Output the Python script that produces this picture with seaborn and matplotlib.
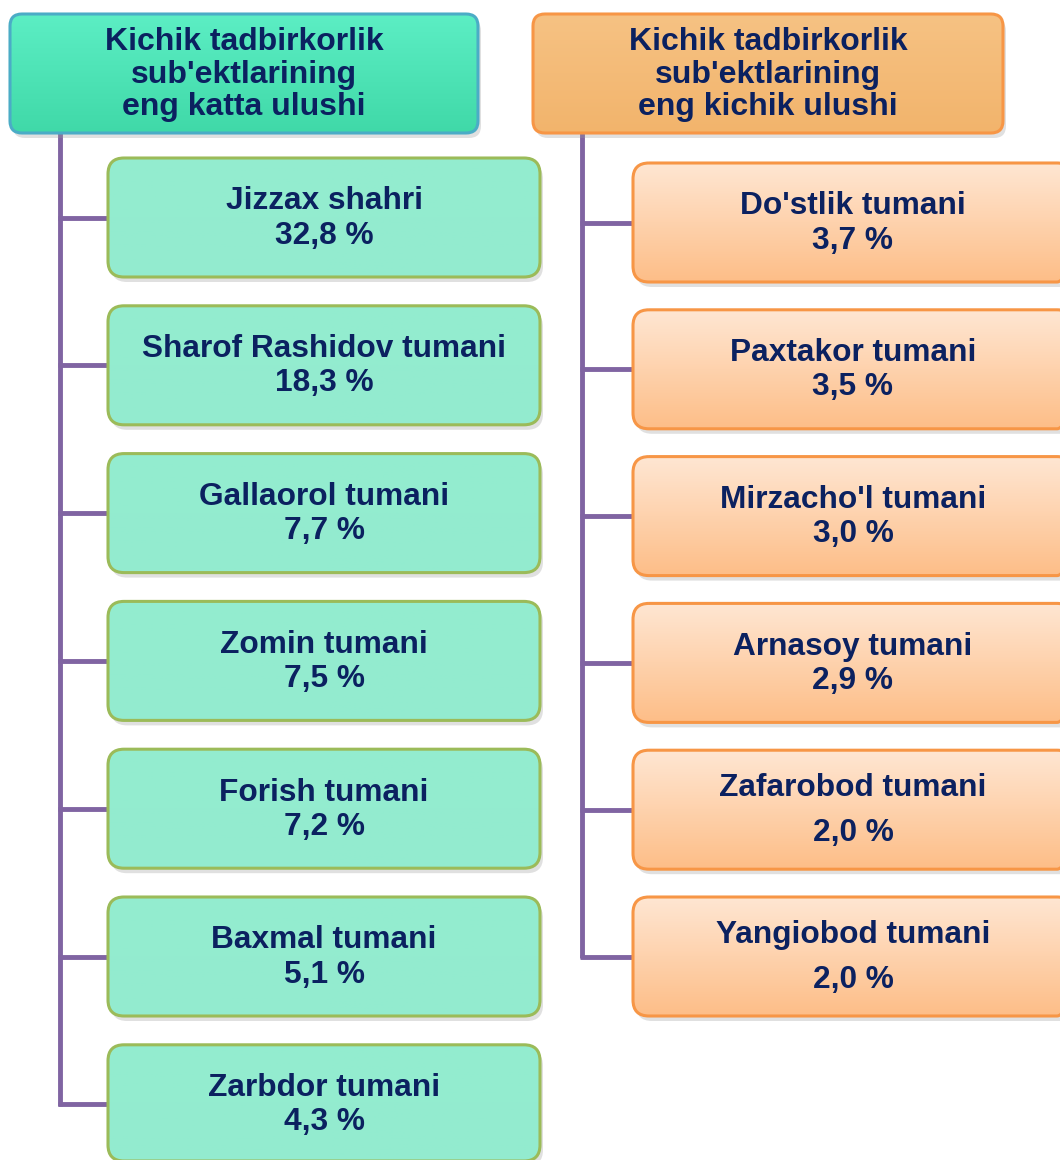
import numpy as np
import matplotlib.pyplot as plt
import seaborn as sns
from matplotlib.patches import FancyBboxPatch
from matplotlib.colors import LinearSegmentedColormap

# ma'lumotlar
big_title = "Kichik tadbirkorlik\nsub'ektlarining\neng katta ulushi"
small_title = "Kichik tadbirkorlik\nsub'ektlarining\neng kichik ulushi"
big_names = ["Jizzax shahri", "Sharof Rashidov tumani", "Gallaorol tumani", "Zomin tumani",
             "Forish tumani", "Baxmal tumani", "Zarbdor tumani"]
big_shares = [32.8, 18.3, 7.7, 7.5, 7.2, 5.1, 4.3]
small_names = ["Do'stlik tumani", "Paxtakor tumani", "Mirzacho'l tumani", "Arnasoy tumani",
               "Zafarobod tumani", "Yangiobod tumani"]
small_shares = [3.7, 3.5, 3.0, 2.9, 2.0, 2.0]

sns.set_theme(style="white")
plt.rcParams['font.family'] = ['Liberation Sans', 'DejaVu Sans']

TEXT = "#0B2160"
LINE = "#8064A2"

fig = plt.figure(figsize=(10.6, 11.6), dpi=100)
ax = fig.add_axes([0, 0, 1, 1])
ax.set_xlim(0, 1060)
ax.set_ylim(1160, 0)
ax.axis("off")


def fmt(v):
    return f"{v:.1f}".replace(".", ",") + " %"


def draw_box(x, y, w, h, top, bottom, edge, label, size, spacing=1.1, r=16):
    ty = y + h / 2 + 1
    h = min(h, 1161 - y)  # pastki quti rasm chetida kesiladi
    # soya
    sh = FancyBboxPatch((x + 3, y + 5), w, h, boxstyle=f"round,pad=0,rounding_size={r}",
                        fc="#9a9a9a", ec="none", alpha=0.3, zorder=1)
    ax.add_patch(sh)
    box = FancyBboxPatch((x, y), w, h, boxstyle=f"round,pad=0,rounding_size={r}",
                         fc="none", ec=edge, lw=2.2, zorder=4)
    ax.add_patch(box)
    cmap = LinearSegmentedColormap.from_list("g", [top, bottom])
    grad = np.linspace(0, 1, 64).reshape(-1, 1)
    im = ax.imshow(grad, cmap=cmap, extent=(x, x + w, y + h, y), aspect="auto", zorder=2)
    im.set_clip_path(box)
    ax.text(x + w / 2, ty, label, ha="center", va="center", fontsize=size,
            fontweight="bold", color=TEXT, linespacing=spacing, zorder=5)


def branch(x0, x1, y):
    ax.plot([x0, x1], [y, y], color=LINE, lw=3.5, zorder=0, solid_capstyle="butt")


# chap ustun
draw_box(10, 14, 468, 119, "#5CEEC4", "#40D9A8", "#4BACC6", big_title, 23, 1.13, r=12)
ax.plot([60, 60], [133, 158 + 6 * 147.8 + 59.5 + 1.7], color=LINE, lw=3.5, zorder=0,
        solid_capstyle="butt")
for i, (n, v) in enumerate(zip(big_names, big_shares)):
    y = 158 + i * 147.8
    branch(58.3, 110, y + 59.5)
    draw_box(108, y, 432, 119, "#93EDD0", "#93EBCF", "#9BBB59", f"{n}\n{fmt(v)}", 22.8, 1.19)

# o'ng ustun
draw_box(533, 14, 470, 119, "#F6C283", "#F2B46C", "#F79646", small_title, 23, 1.13, r=12)
ax.plot([582, 582], [133, 163 + 5 * 146.8 + 59.5 + 1.7], color=LINE, lw=3.5, zorder=0,
        solid_capstyle="butt")
for i, (n, v) in enumerate(zip(small_names, small_shares)):
    y = 163 + i * 146.8
    branch(580.3, 635, y + 59.5)
    sp = 1.63 if i >= 4 else 1.19
    draw_box(633, y, 440, 119, "#FFE6D2", "#FDBE88", "#F79646", f"{n}\n{fmt(v)}", 22.8, sp)

fig.savefig("out.png", dpi=100)
